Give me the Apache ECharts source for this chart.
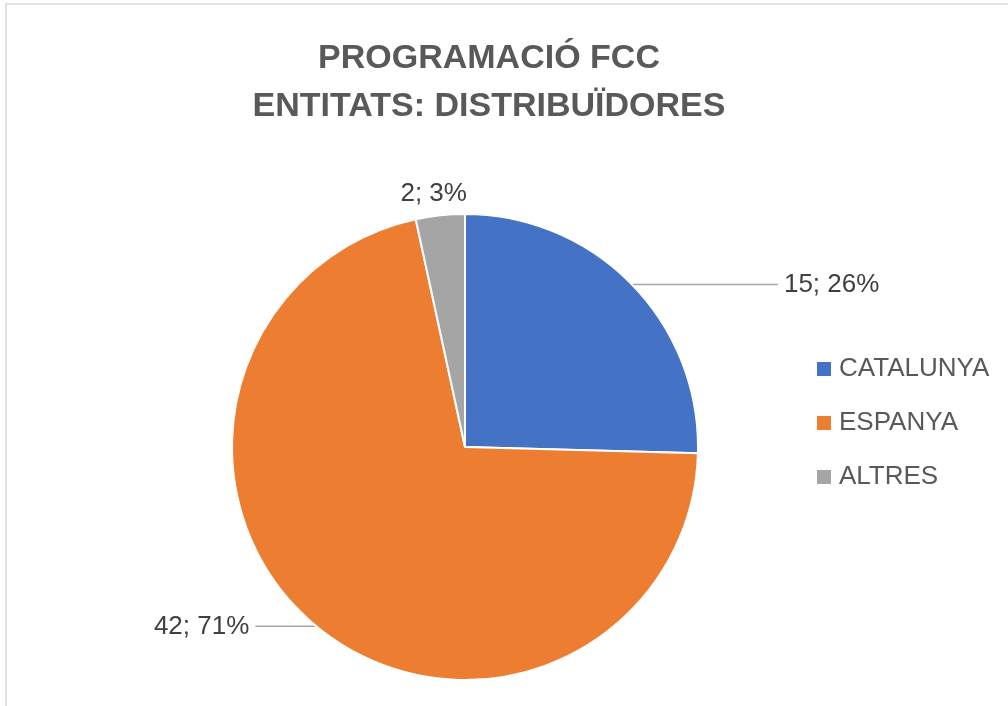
<!DOCTYPE html>
<html>
<head>
<meta charset="utf-8">
<title>Programació FCC - Entitats: distribuïdores</title>
<script src="https://cdn.jsdelivr.net/npm/echarts@6/dist/echarts.min.js"></script>
<style>
  html, body { margin: 0; padding: 0; background: #fff; }
  #chart { width: 1008px; height: 706px; }
</style>
</head>
<body>
<div id="chart"></div>
<script>
// data
const categories = ["CATALUNYA", "ESPANYA", "ALTRES"];
const values = [15, 42, 2];
const colors = ["#4472C4", "#ED7D31", "#A5A5A5"];

// per-slice leader line tweaks (Excel places these by hand)
const lineLength = [0, 0, 24];
const lineLength2 = [146, 61, 0];
const lineShow = [true, true, false];

const pieData = categories.map((name, i) => ({
  name: name,
  value: values[i],
  itemStyle: { color: colors[i] },
  labelLine: { show: lineShow[i], length: lineLength[i], length2: lineLength2[i] }
}));

const option = {
  backgroundColor: "#fff",
  animation: false,
  graphic: [
    {
      type: "rect",
      shape: { x: 6, y: 4, width: 1100, height: 800 },
      style: { fill: "none", stroke: "#d9d9d9", lineWidth: 1.5 },
      silent: true
    }
  ],
  title: {
    text: "PROGRAMACIÓ FCC\nENTITATS: DISTRIBUÏDORES",
    left: 484,
    top: 30,
    textAlign: "center",
    textStyle: {
      fontFamily: "Liberation Sans",
      fontWeight: "bold",
      fontSize: 34,
      lineHeight: 48,
      color: "#595959"
    }
  },
  legend: {
    orient: "vertical",
    left: 810,
    top: 351,
    icon: "rect",
    itemWidth: 16,
    itemHeight: 16,
    itemGap: 28,
    data: categories,
    textStyle: {
      fontFamily: "Liberation Sans",
      fontSize: 26,
      lineHeight: 26,
      color: "#595959",
      padding: [0, 0, 0, 2]
    }
  },
  series: [
    {
      type: "pie",
      center: [465, 447],
      radius: 233,
      startAngle: 90,
      clockwise: true,
      avoidLabelOverlap: false,
      percentPrecision: 0,
      itemStyle: { borderColor: "#fff", borderWidth: 2 },
      label: {
        show: true,
        position: "outside",
        formatter: "{c}; {d}%",
        fontFamily: "Liberation Sans",
        fontSize: 26,
        color: "#404040",
        distanceToLabelLine: 6
      },
      labelLine: {
        lineStyle: { color: "#a6a6a6", width: 1.5 }
      },
      labelLayout: function (params) {
        if (params.dataIndex === 2) {
          return { align: "center", verticalAlign: "middle", dx: 2, dy: 2 };
        }
      },
      emphasis: { disabled: true },
      data: pieData
    }
  ]
};

const chart = echarts.init(document.getElementById("chart"), null, { renderer: "canvas" });
chart.setOption(option);
</script>
</body>
</html>
